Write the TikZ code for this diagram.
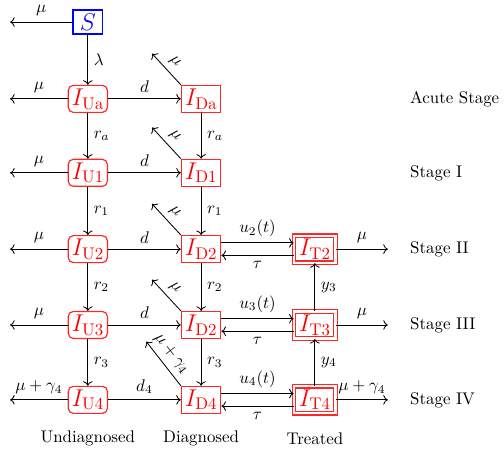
\documentclass[tikz,border=0pt]{standalone}
\usepackage{amsmath}
\usetikzlibrary{arrows.meta,positioning,calc}

\begin{document}
\begin{tikzpicture}[>=To, line width=0.5pt,
    comp/.style={font=\Large, text=red, draw=red!85, line width=0.7pt, inner sep=2pt, minimum height=0.56cm},
    susc/.style={font=\Large, text=blue, draw=blue, line width=0.7pt, inner sep=2pt, minimum width=0.62cm, minimum height=0.5cm},
    undiag/.style={comp, rounded corners=3pt, minimum width=0.78cm},
    diag/.style={comp, minimum width=0.81cm},
    treat/.style={comp, line width=0.65pt, double=white, double distance=1.3pt, minimum width=0.86cm},
    stage/.style={anchor=west}]
    \useasboundingbox (0,0) rectangle (10.5,-9.46);
    % --- susceptible ---
    \node[susc] (S) at (1.83,-0.46) {$S$};
    % --- undiagnosed column ---
    \node[undiag] (IUa) at (1.83,-2.06) {$I_{\mathrm{Ua}}$};
    \node[undiag] (IU1) at (1.83,-3.60) {$I_{\mathrm{U1}}$};
    \node[undiag] (IU2) at (1.83,-5.19) {$I_{\mathrm{U2}}$};
    \node[undiag] (IU3) at (1.83,-6.77) {$I_{\mathrm{U3}}$};
    \node[undiag] (IU4) at (1.83,-8.33) {$I_{\mathrm{U4}}$};
    % --- diagnosed column ---
    \node[diag] (IDa) at (4.19,-2.06) {$I_{\mathrm{Da}}$};
    \node[diag] (ID1) at (4.19,-3.60) {$I_{\mathrm{D1}}$};
    \node[diag] (ID2) at (4.19,-5.19) {$I_{\mathrm{D2}}$};
    \node[diag] (ID3) at (4.19,-6.77) {$I_{\mathrm{D2}}$};
    \node[diag] (ID4) at (4.19,-8.33) {$I_{\mathrm{D4}}$};
    % --- treated column ---
    \node[treat] (IT2) at (6.56,-5.19) {$I_{\mathrm{T2}}$};
    \node[treat] (IT3) at (6.56,-6.77) {$I_{\mathrm{T3}}$};
    \node[treat] (IT4) at (6.56,-8.33) {$I_{\mathrm{T4}}$};
    % --- free ends of the outflows ---
    \coordinate (outS)  at (0.21,-0.46);
    \coordinate (outUa) at (0.21,-2.06);
    \coordinate (outU1) at (0.21,-3.60);
    \coordinate (outU2) at (0.21,-5.19);
    \coordinate (outU3) at (0.21,-6.77);
    \coordinate (outU4) at (0.21,-8.33);
    \coordinate (outT2) at (8.08,-5.19);
    \coordinate (outT3) at (8.08,-6.77);
    \coordinate (outT4) at (8.08,-8.33);
    \coordinate (outDa) at ($(IDa.north west)+(-0.6,0.65)$);
    \coordinate (outD1) at ($(ID1.north west)+(-0.6,0.65)$);
    \coordinate (outD2) at ($(ID2.north west)+(-0.6,0.65)$);
    \coordinate (outD3) at ($(ID3.north west)+(-0.6,0.65)$);
    \coordinate (outD4) at ($(ID4.north west)+(-0.72,0.92)$);
    % --- deaths ---
    \draw[->] (S) -- node[above]{$\mu$} (outS);
    \draw[->] (IUa) -- node[above]{$\mu$} (outUa);
    \draw[->] (IU1) -- node[above]{$\mu$} (outU1);
    \draw[->] (IU2) -- node[above]{$\mu$} (outU2);
    \draw[->] (IU3) -- node[above]{$\mu$} (outU3);
    \draw[->] (IU4) -- node[above]{$\mu+\gamma_4$} (outU4);
    \draw[->] (IDa.north west) -- node[sloped, above]{$\mu$} (outDa);
    \draw[->] (ID1.north west) -- node[sloped, above]{$\mu$} (outD1);
    \draw[->] (ID2.north west) -- node[sloped, above]{$\mu$} (outD2);
    \draw[->] (ID3.north west) -- node[sloped, above]{$\mu$} (outD3);
    \draw[->] (ID4.north west) -- node[sloped, above, pos=0.55]{$\mu+\gamma_4$} (outD4);
    \draw[->] (IT2) -- node[above]{$\mu$} (outT2);
    \draw[->] (IT3) -- node[above]{$\mu$} (outT3);
    \draw[->] (IT4) -- node[above]{$\mu+\gamma_4$} (outT4);
    % --- progression ---
    \draw[->] (S) -- node[right]{$\lambda$} (IUa);
    \draw[->] (IUa) -- node[right]{$r_a$} (IU1);
    \draw[->] (IU1) -- node[right]{$r_1$} (IU2);
    \draw[->] (IU2) -- node[right]{$r_2$} (IU3);
    \draw[->] (IU3) -- node[right]{$r_3$} (IU4);
    \draw[->] (IDa) -- node[right]{$r_a$} (ID1);
    \draw[->] (ID1) -- node[right]{$r_1$} (ID2);
    \draw[->] (ID2) -- node[right]{$r_2$} (ID3);
    \draw[->] (ID3) -- node[right]{$r_3$} (ID4);
    \draw[->] (IT4) -- node[right]{$y_4$} (IT3);
    \draw[->] (IT3) -- node[right]{$y_3$} (IT2);
    % --- diagnosis ---
    \draw[->] (IUa) -- node[above]{$d$} (IDa);
    \draw[->] (IU1) -- node[above]{$d$} (ID1);
    \draw[->] (IU2) -- node[above]{$d$} (ID2);
    \draw[->] (IU3) -- node[above]{$d$} (ID3);
    \draw[->] (IU4) -- node[above]{$d_4$} (ID4);
    % --- treatment and dropout ---
    \draw[->] ([yshift=1.3mm]ID2.east) -- node[above]{$u_2(t)$} ([yshift=1.3mm]IT2.west);
    \draw[->] ([yshift=-1.3mm]IT2.west) -- node[below]{$\tau$} ([yshift=-1.3mm]ID2.east);
    \draw[->] ([yshift=1.3mm]ID3.east) -- node[above]{$u_3(t)$} ([yshift=1.3mm]IT3.west);
    \draw[->] ([yshift=-1.3mm]IT3.west) -- node[below]{$\tau$} ([yshift=-1.3mm]ID3.east);
    \draw[->] ([yshift=1.3mm]ID4.east) -- node[above]{$u_4(t)$} ([yshift=1.3mm]IT4.west);
    \draw[->] ([yshift=-1.3mm]IT4.west) -- node[below]{$\tau$} ([yshift=-1.3mm]ID4.east);
    % --- stage and column labels ---
    \node[stage] (lblA)   at (8.42,-2.06) {Acute Stage};
    \node[stage] (lblI)   at (8.42,-3.60) {Stage I};
    \node[stage] (lblII)  at (8.42,-5.19) {Stage II};
    \node[stage] (lblIII) at (8.42,-6.77) {Stage III};
    \node[stage] (lblIV)  at (8.42,-8.33) {Stage IV};
    \node (lblU) at (1.83,-9.13) {Undiagnosed};
    \node (lblD) at (4.19,-9.13) {Diagnosed};
    \node (lblT) at (6.56,-9.13) {Treated};
\end{tikzpicture}
\end{document}
